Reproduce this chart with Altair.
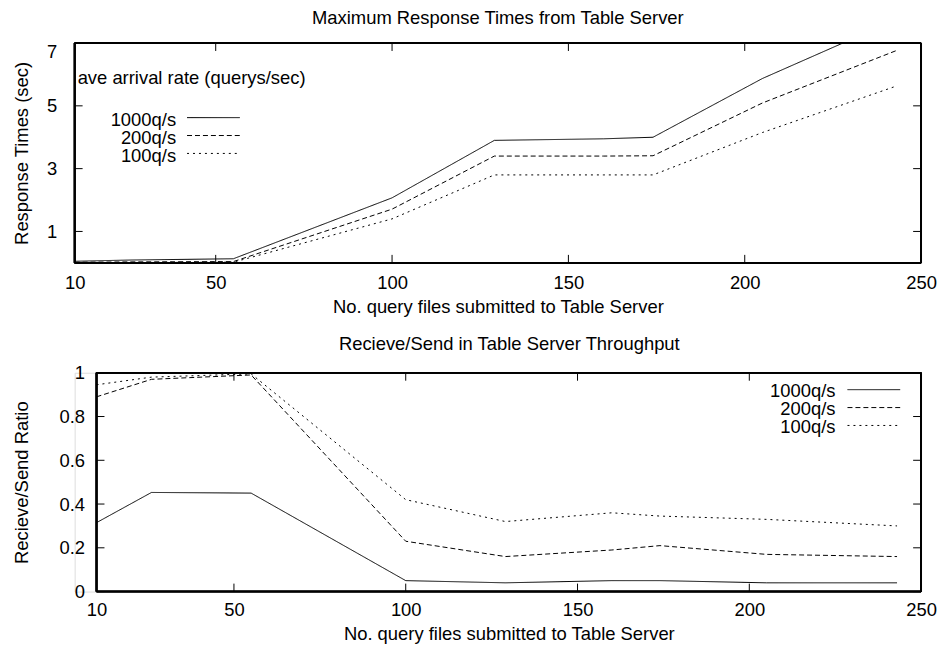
import altair as alt
import pandas as pd

# ---------------- data ----------------
n_files = [10, 26, 55, 100, 129, 160, 174, 205, 243]
rates = ["1000q/s", "200q/s", "100q/s"]

resp_1000 = [0.05, 0.09, 0.13, 2.07, 3.90, 3.95, 4.00, 5.87, 7.75]
resp_200 = [0.02, 0.03, 0.04, 1.71, 3.40, 3.40, 3.41, 5.09, 6.76]
resp_100 = [0.01, 0.01, 0.02, 1.40, 2.80, 2.80, 2.80, 4.15, 5.63]

ratio_1000 = [0.315, 0.453, 0.45, 0.05, 0.04, 0.05, 0.05, 0.04, 0.04]
ratio_200 = [0.89, 0.97, 0.99, 0.23, 0.16, 0.19, 0.21, 0.17, 0.16]
ratio_100 = [0.945, 0.98, 0.995, 0.42, 0.32, 0.36, 0.345, 0.33, 0.30]

x_ticks = [10, 50, 100, 150, 200, 250]
y_ticks_top = [1, 3, 5, 7]
y_ticks_bottom = [0, 0.2, 0.4, 0.6, 0.8, 1]

top_title = "Maximum Response Times from Table Server"
bottom_title = "Recieve/Send in Table Server Throughput"
x_title = "No. query files submitted to Table Server"
top_y_title = "Response Times (sec)"
bottom_y_title = "Recieve/Send Ratio"
legend_title = "ave arrival rate (querys/sec)"


def long_frame(series):
    rows = []
    for rate, vals in zip(rates, series):
        for n, v in zip(n_files, vals):
            rows.append({"n": n, "rate": rate, "v": v})
    return pd.DataFrame(rows)


df_top = long_frame([resp_1000, resp_200, resp_100])
df_bot = long_frame([ratio_1000, ratio_200, ratio_100])
df_xt = pd.DataFrame({"t": x_ticks})
df_leg = pd.DataFrame({"rate": rates})
df_leg_title = pd.DataFrame({"t": [legend_title]})

FONT = "Liberation Sans"
FS = 18.5
W = 851
H_TOP = 221
H_BOT = 220
TICK = 8


def dash_scale():
    return alt.Scale(domain=rates, range=[[1, 0], [5, 3], [2, 4]])


def legend_layer(label_right, sym_x, sym_x2, row_range, sym_dy, with_title):
    ys = alt.Scale(type="point", domain=rates, range=row_range, padding=0)
    labels = alt.Chart(df_leg).mark_text(
        align="right", baseline="middle", font=FONT, fontSize=FS, color="black"
    ).encode(
        text="rate:N",
        x=alt.value(label_right),
        y=alt.Y("rate:N", scale=ys, axis=None),
    )
    symbols = alt.Chart(df_leg).mark_rule(
        color="black", strokeWidth=1, yOffset=sym_dy
    ).encode(
        x=alt.value(sym_x), x2=alt.value(sym_x2),
        y=alt.Y("rate:N", scale=ys, axis=None),
        strokeDash=alt.StrokeDash("rate:N", scale=dash_scale(), legend=None),
    )
    parts = [labels, symbols]
    if with_title:
        parts.append(alt.Chart(df_leg_title).mark_text(
            align="left", baseline="alphabetic", font=FONT, fontSize=FS, color="black"
        ).encode(text="t:N", x=alt.value(3), y=alt.value(41)))
    return alt.layer(*parts)


def panel(df, y_dom, y_ticks, yfmt, H, xrange_start, y_title, ylab_pad, y_flush,
          xlab_pad, x_title_y, legend, title, title_offset, title_dx,
          y_axis_offset, y_title_x):
    xs = alt.Scale(domain=[10, 250], range=[xrange_start, W], nice=False, zero=False)
    ys = alt.Scale(domain=y_dom, nice=False, zero=False)
    x_axis = alt.Axis(values=x_ticks, format="d", labelFlush=False, domain=False,
                      ticks=False, grid=False, labelPadding=xlab_pad,
                      labelFont=FONT, labelFontSize=FS, labelColor="black",
                      labelOverlap=False, title=x_title, titleFont=FONT,
                      titleFontSize=FS, titleFontWeight="normal", titleColor="black",
                      titleY=x_title_y, titleBaseline="alphabetic")
    y_axis = alt.Axis(values=y_ticks, format=yfmt, domain=False, ticks=False,
                      grid=False, labelPadding=ylab_pad, labelFlush=y_flush,
                      labelFont=FONT, labelFontSize=FS, labelColor="black",
                      labelOverlap=False, offset=y_axis_offset,
                      title=y_title, titleFont=FONT, titleFontSize=FS,
                      titleFontWeight="normal", titleColor="black", titleAngle=270,
                      titleX=y_title_x, titleY=H / 2, titleAlign="center",
                      titleBaseline="alphabetic")

    def X(**kw):
        return alt.X(scale=xs, axis=x_axis, **kw)

    def Y(**kw):
        return alt.Y(scale=ys, axis=y_axis, **kw)

    lines = alt.Chart(df).mark_line(clip=True, color="black", strokeWidth=1).encode(
        x=X(field="n", type="quantitative"),
        y=Y(field="v", type="quantitative"),
        strokeDash=alt.StrokeDash("rate:N", scale=dash_scale(), legend=None),
        order="n:Q",
    )

    frame_kw = dict(color="black", strokeWidth=1.6)
    left = alt.Chart(df_xt).mark_rule(**frame_kw).encode(
        x=X(datum=10), y=Y(datum=y_dom[0]), y2=alt.Y2(datum=y_dom[1]))
    right = alt.Chart(df_xt).mark_rule(**frame_kw).encode(
        x=X(datum=250), y=Y(datum=y_dom[0]), y2=alt.Y2(datum=y_dom[1]))
    bottom = alt.Chart(df_xt).mark_rule(**frame_kw).encode(
        x=X(datum=10), x2=alt.X2(datum=250), y=Y(datum=y_dom[0]))
    top = alt.Chart(df_xt).mark_rule(**frame_kw).encode(
        x=X(datum=10), x2=alt.X2(datum=250), y=Y(datum=y_dom[1]))

    tick_kw = dict(color="black", strokeWidth=1)
    xt_bot = alt.Chart(df_xt).mark_rule(y2Offset=-TICK, **tick_kw).encode(
        x=X(field="t", type="quantitative"),
        y=Y(datum=y_dom[0]), y2=alt.Y2(datum=y_dom[0]))
    xt_top = alt.Chart(df_xt).mark_rule(y2Offset=TICK, **tick_kw).encode(
        x=X(field="t", type="quantitative"),
        y=Y(datum=y_dom[1]), y2=alt.Y2(datum=y_dom[1]))
    dfy = pd.DataFrame({"t": y_ticks})
    yt_left = alt.Chart(dfy).mark_rule(x2Offset=TICK, **tick_kw).encode(
        y=Y(field="t", type="quantitative"),
        x=X(datum=10), x2=alt.X2(datum=10))
    yt_right = alt.Chart(dfy).mark_rule(x2Offset=-TICK, **tick_kw).encode(
        y=Y(field="t", type="quantitative"),
        x=X(datum=250), x2=alt.X2(datum=250))

    main = alt.layer(lines, xt_bot, xt_top, yt_left, yt_right,
                     left, right, bottom, top)
    return alt.layer(main, legend).resolve_scale(y="independent").properties(
        width=W, height=H,
        title=alt.TitleParams(title, font=FONT, fontSize=FS, fontWeight="normal",
                              color="black", anchor="middle",
                              offset=title_offset, dx=title_dx),
    )


top_chart = panel(df_top, [0, 7], y_ticks_top, "d", H_TOP, 0, top_y_title, 18, True,
                  11, 50, legend_layer(102, 113, 166, [77.5, 113.5], -2.5, True),
                  top_title, 14.6, 0, 0, -47)
bottom_chart = panel(df_bot, [0, 1], y_ticks_bottom, "~g", H_BOT, 22, bottom_y_title,
                     12, False, 9.5, 48,
                     legend_layer(765, 777, 830, [18.5, 54.5], -1.5, False),
                     bottom_title, 10, 11.5, -22, -69)

chart = alt.vconcat(top_chart, bottom_chart, spacing=18.5).resolve_scale(
    strokeDash="independent", x="independent", y="independent"
).properties(
    padding={"left": 4, "top": -1.5, "right": 0, "bottom": 0}
).configure_view(stroke=None).configure(background="white")

chart.save("out.html", embed_options={"renderer": "svg", "actions": False})
